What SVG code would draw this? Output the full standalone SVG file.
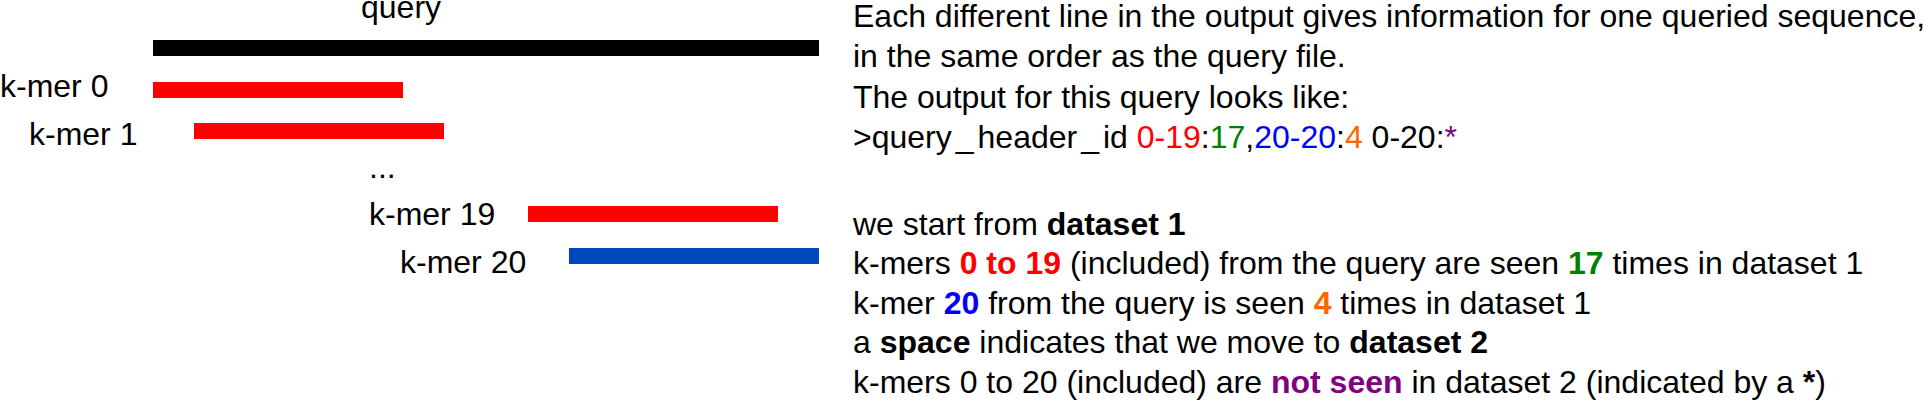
<svg xmlns="http://www.w3.org/2000/svg" width="1930" height="408" viewBox="0 0 1930 408">
<style>
text{font-family:"Liberation Sans",Arial,sans-serif;font-size:32px;fill:#000}
.b{font-weight:bold}
.red{fill:#ff0000}
.grn{fill:#008000}
.blu{fill:#0000ff}
.org{fill:#ff6600}
.pur{fill:#800080}
.barR{fill:#ff0000}
.barK{fill:#000000}
.barB{fill:#0047bb}
</style>
<rect width="1930" height="408" fill="#ffffff"/>
<g id="query">
<text x="361" y="18">query</text>
<rect class="barK" x="153" y="40" width="666" height="16"/>
</g>
<g id="kmer0">
<text x="0" y="97">k-mer 0</text>
<rect class="barR" x="153" y="82" width="250" height="16"/>
</g>
<g id="kmer1">
<text x="29" y="145">k-mer 1</text>
<rect class="barR" x="194" y="123" width="250" height="16"/>
</g>
<g id="ellipsis">
<text x="369" y="178">...</text>
</g>
<g id="kmer19">
<text x="369" y="225">k-mer 19</text>
<rect class="barR" x="528" y="206" width="250" height="16"/>
</g>
<g id="kmer20">
<text x="400" y="273">k-mer 20</text>
<rect class="barB" x="569" y="248" width="250" height="16"/>
</g>
<g id="connectors"/>
<g id="explanation">
<text x="853" y="27">Each different line in the output gives information for one queried sequence,</text>
<text x="853" y="67">in the same order as the query file.</text>
<text x="853" y="108">The output for this query looks like:</text>
<text x="853" y="148">&gt;query<tspan dx="4">_</tspan><tspan dx="4">header</tspan><tspan dx="4">_</tspan><tspan dx="4">id</tspan> <tspan class="red">0-19</tspan>:<tspan class="grn">17</tspan>,<tspan class="blu">20-20</tspan>:<tspan class="org">4</tspan> 0-20:<tspan class="pur">*</tspan></text>
<text x="853" y="235">we start from <tspan class="b">dataset 1</tspan></text>
<text x="853" y="274">k-mers <tspan class="b red">0 to 19</tspan> (included) from the query are seen <tspan class="b grn">17</tspan> times in dataset 1</text>
<text x="853" y="314">k-mer <tspan class="b blu">20</tspan> from the query is seen <tspan class="b org">4</tspan> times in dataset 1</text>
<text x="853" y="353">a <tspan class="b">space</tspan> indicates that we move to <tspan class="b">dataset 2</tspan></text>
<text x="853" y="393">k-mers 0 to 20 (included) are <tspan class="b pur">not seen</tspan> in dataset 2 (indicated by a <tspan class="b">*</tspan>)</text>
</g>
</svg>
